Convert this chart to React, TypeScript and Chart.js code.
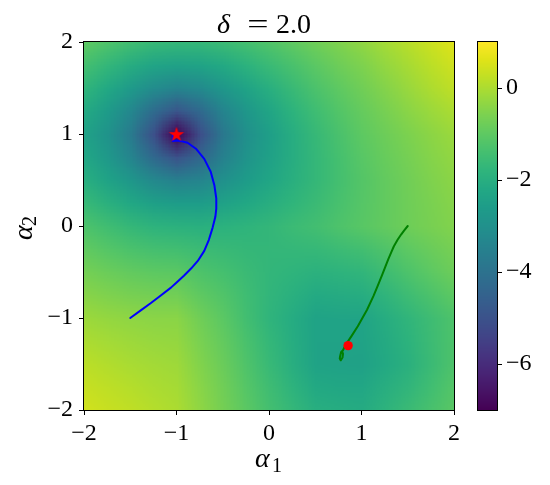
import React, { useEffect, useRef } from "react";
import { Chart, registerables } from "chart.js";

Chart.register(...registerables);

const FONT = "'Liberation Serif', 'Times New Roman', serif";

// ---- data ----
const alpha1Grid = [-2, -1.75, -1.5, -1.25, -1, -0.75, -0.5, -0.25, 0, 0.25, 0.5, 0.75, 1, 1.25, 1.5, 1.75, 2];
const alpha2Grid = [2, 1.75, 1.5, 1.25, 1, 0.75, 0.5, 0.25, 0, -0.25, -0.5, -0.75, -1, -1.25, -1.5, -1.75, -2];

// field value per row (alpha2 from 2 down to -2), per column (alpha1 from -2 to 2)
const fieldRows: number[][] = [
  [-1.01, -1.25, -1.48, -1.64, -1.70, -1.69, -1.58, -1.40, -1.21, -0.99, -0.77, -0.55, -0.34, -0.10, 0.13, 0.37, 0.60],
  [-1.40, -1.73, -2.06, -2.32, -2.43, -2.37, -2.16, -1.88, -1.60, -1.32, -1.05, -0.79, -0.56, -0.30, -0.06, 0.18, 0.41],
  [-1.78, -2.21, -2.69, -3.16, -3.39, -3.21, -2.79, -2.36, -1.98, -1.61, -1.28, -1.00, -0.75, -0.48, -0.23, 0.01, 0.23],
  [-2.14, -2.65, -3.31, -4.23, -4.92, -4.28, -3.41, -2.77, -2.29, -1.85, -1.49, -1.18, -0.90, -0.65, -0.41, -0.20, 0.00],
  [-2.40, -2.93, -3.69, -5.07, -7.00, -5.12, -3.79, -3.03, -2.50, -2.03, -1.64, -1.31, -1.01, -0.78, -0.57, -0.38, -0.20],
  [-2.24, -2.72, -3.36, -4.28, -4.97, -4.36, -3.51, -2.90, -2.44, -2.03, -1.69, -1.38, -1.10, -0.87, -0.66, -0.47, -0.30],
  [-1.98, -2.36, -2.79, -3.26, -3.49, -3.36, -2.99, -2.61, -2.28, -1.96, -1.68, -1.40, -1.15, -0.93, -0.73, -0.54, -0.38],
  [-1.63, -1.92, -2.21, -2.47, -2.58, -2.57, -2.41, -2.21, -2.00, -1.78, -1.57, -1.34, -1.13, -0.94, -0.76, -0.60, -0.44],
  [-1.26, -1.48, -1.68, -1.84, -1.90, -1.94, -1.88, -1.80, -1.71, -1.56, -1.42, -1.25, -1.09, -0.93, -0.77, -0.63, -0.50],
  [-0.96, -1.14, -1.29, -1.39, -1.43, -1.55, -1.61, -1.68, -1.71, -1.69, -1.66, -1.55, -1.43, -1.23, -1.02, -0.83, -0.64],
  [-0.67, -0.82, -0.93, -1.01, -1.04, -1.24, -1.38, -1.57, -1.72, -1.81, -1.90, -1.83, -1.77, -1.51, -1.26, -1.02, -0.78],
  [-0.43, -0.54, -0.63, -0.69, -0.71, -0.98, -1.20, -1.49, -1.75, -1.95, -2.13, -2.09, -2.05, -1.79, -1.52, -1.27, -1.01],
  [-0.19, -0.28, -0.35, -0.40, -0.41, -0.75, -1.05, -1.43, -1.79, -2.08, -2.37, -2.35, -2.32, -2.05, -1.77, -1.50, -1.24],
  [0.00, -0.10, -0.18, -0.25, -0.28, -0.62, -0.93, -1.32, -1.70, -2.04, -2.36, -2.38, -2.38, -2.12, -1.85, -1.54, -1.24],
  [0.18, 0.07, -0.03, -0.11, -0.17, -0.51, -0.83, -1.23, -1.62, -1.99, -2.36, -2.40, -2.42, -2.17, -1.92, -1.57, -1.23],
  [0.32, 0.21, 0.11, 0.00, -0.08, -0.42, -0.74, -1.14, -1.50, -1.84, -2.17, -2.22, -2.25, -2.00, -1.75, -1.45, -1.14],
  [0.45, 0.33, 0.23, 0.10, 0.00, -0.35, -0.68, -1.04, -1.40, -1.69, -1.98, -2.04, -2.09, -1.84, -1.58, -1.32, -1.06],
];

const blueAlpha1 = [-1.5, -1.39, -1.28, -1.17, -1.06, -0.99, -0.92, -0.84, -0.77, -0.7, -0.65, -0.61, -0.58, -0.57, -0.57, -0.59, -0.63, -0.7, -0.79, -0.88, -0.94, -0.99, -1.04, -1.04];
const blueAlpha2 = [-1.0, -0.92, -0.84, -0.755, -0.67, -0.605, -0.54, -0.46, -0.38, -0.27, -0.15, -0.02, 0.1, 0.19, 0.3, 0.44, 0.59, 0.73, 0.84, 0.905, 0.92, 0.93, 0.925, 0.99];

const greenAlpha1 = [1.5, 1.46, 1.43, 1.39, 1.35, 1.32, 1.29, 1.255, 1.22, 1.175, 1.13, 1.06, 1.01, 0.96, 0.89, 0.85, 0.82, 0.8, 0.78, 0.77, 0.765, 0.775, 0.795, 0.8, 0.79, 0.78];
const greenAlpha2 = [0.0, -0.05, -0.09, -0.15, -0.22, -0.29, -0.36, -0.45, -0.54, -0.65, -0.76, -0.91, -1.0, -1.09, -1.2, -1.26, -1.31, -1.35, -1.37, -1.41, -1.44, -1.46, -1.43, -1.39, -1.36, -1.38];

const starAlpha1 = [-1];
const starAlpha2 = [1];
const dotAlpha1 = [0.855];
const dotAlpha2 = [-1.3];

const axisRange = [-2, 2];
const axisTicks = [-2, -1, 0, 1, 2];
const colorRange = [-7, 1];
const colorbarTicks = [-6, -4, -2, 0];

// ---- styling ----
const VIRIDIS = [
  "#440154", "#471365", "#482475", "#463480", "#414487", "#3b528b", "#355f8d",
  "#2f6c8e", "#2a788e", "#25848e", "#21918c", "#1e9c89", "#22a884", "#2fb47c",
  "#44bf70", "#5ec962", "#7ad151", "#9bd93c", "#bddf26", "#dfe318", "#fde725",
];
const VIR_RGB = VIRIDIS.map((h) => [
  parseInt(h.slice(1, 3), 16),
  parseInt(h.slice(3, 5), 16),
  parseInt(h.slice(5, 7), 16),
]);

function viridis(t: number): number[] {
  const tt = Math.max(0, Math.min(1, t));
  const f = tt * (VIR_RGB.length - 1);
  const i = Math.min(VIR_RGB.length - 2, Math.floor(f));
  const u = f - i;
  const a = VIR_RGB[i];
  const b = VIR_RGB[i + 1];
  return [0, 1, 2].map((k) => Math.round(a[k] + (b[k] - a[k]) * u));
}

function fmt(v: number): string {
  return v < 0 ? "\u2212" + String(Math.abs(v)) : String(v);
}

function makeStar(outer: number, color: string): HTMLCanvasElement {
  const size = Math.ceil(outer * 2 + 2);
  const c = document.createElement("canvas");
  c.width = size;
  c.height = size;
  const g = c.getContext("2d")!;
  const cx = size / 2;
  const cy = size / 2 + outer * 0.1;
  const inner = outer * 0.382;
  g.beginPath();
  for (let k = 0; k < 10; k++) {
    const r = k % 2 === 0 ? outer : inner;
    const a = -Math.PI / 2 + (k * Math.PI) / 5;
    const px = cx + r * Math.cos(a);
    const py = cy + r * Math.sin(a);
    if (k === 0) g.moveTo(px, py);
    else g.lineTo(px, py);
  }
  g.closePath();
  g.fillStyle = color;
  g.fill();
  return c;
}

const tickFont = { family: FONT, size: 24 };

const heatmapPlugin = {
  id: "heatmap",
  beforeDraw(chart: any) {
    const { ctx, chartArea, scales } = chart;
    const xs = scales.x;
    const ys = scales.y;
    const nx = alpha1Grid.length;
    const ny = alpha2Grid.length;
    const off = document.createElement("canvas");
    off.width = nx;
    off.height = ny;
    const octx = off.getContext("2d")!;
    const img = octx.createImageData(nx, ny);
    for (let j = 0; j < ny; j++) {
      for (let i = 0; i < nx; i++) {
        const t = (fieldRows[j][i] - colorRange[0]) / (colorRange[1] - colorRange[0]);
        const [r, g, b] = viridis(t);
        const p = (j * nx + i) * 4;
        img.data[p] = r;
        img.data[p + 1] = g;
        img.data[p + 2] = b;
        img.data[p + 3] = 255;
      }
    }
    octx.putImageData(img, 0, 0);
    const hx = (alpha1Grid[1] - alpha1Grid[0]) / 2;
    const hy = (alpha2Grid[0] - alpha2Grid[1]) / 2;
    const left = xs.getPixelForValue(alpha1Grid[0] - hx);
    const right = xs.getPixelForValue(alpha1Grid[nx - 1] + hx);
    const top = ys.getPixelForValue(alpha2Grid[0] + hy);
    const bottom = ys.getPixelForValue(alpha2Grid[ny - 1] - hy);
    ctx.save();
    ctx.beginPath();
    ctx.rect(chartArea.left, chartArea.top, chartArea.right - chartArea.left, chartArea.bottom - chartArea.top);
    ctx.clip();
    ctx.imageSmoothingEnabled = true;
    ctx.imageSmoothingQuality = "low";
    ctx.drawImage(off, left, top, right - left, bottom - top);
    ctx.restore();
  },
  afterDraw(chart: any) {
    const { ctx, chartArea } = chart;
    const { left, right, top, bottom } = chartArea;
    ctx.save();
    ctx.strokeStyle = "#000";
    ctx.lineWidth = 1;
    ctx.strokeRect(left - 0.5, top - 0.5, right - left + 1, bottom - top + 1);

    const cx = (left + right) / 2;
    const cy = (top + bottom) / 2;
    ctx.fillStyle = "#000";
    ctx.textBaseline = "alphabetic";

    // title: δ = 2.0
    ctx.font = `italic 28px ${FONT}`;
    ctx.textAlign = "left";
    ctx.fillText("\u03b4", cx - 52, top - 9);
    ctx.save();
    ctx.translate(cx - 11, top - 9);
    ctx.scale(1.35, 1);
    ctx.font = `28px ${FONT}`;
    ctx.textAlign = "center";
    ctx.fillText("=", 0, 0);
    ctx.restore();
    ctx.font = `28px ${FONT}`;
    ctx.textAlign = "left";
    ctx.fillText("2.0", cx + 7, top - 9);

    // x label: α1
    ctx.font = `italic 28px ${FONT}`;
    ctx.textAlign = "left";
    ctx.fillText("\u03b1", cx - 14, bottom + 57);
    ctx.font = `20px ${FONT}`;
    ctx.fillText("1", cx + 3, bottom + 62);

    // y label: α2 (rotated)
    ctx.save();
    ctx.translate(left - 52, cy + 14);
    ctx.rotate(-Math.PI / 2);
    ctx.font = `italic 28px ${FONT}`;
    ctx.textAlign = "left";
    ctx.fillText("\u03b1", 0, 0);
    ctx.font = `20px ${FONT}`;
    ctx.fillText("2", 14, 4);
    ctx.restore();
    ctx.restore();
  },
};

const colorbarPlugin = {
  id: "colorbarFill",
  beforeDraw(chart: any) {
    const { ctx, chartArea, scales } = chart;
    const ys = scales.y;
    ctx.save();
    for (let py = Math.floor(chartArea.top); py < Math.ceil(chartArea.bottom); py++) {
      const v = ys.getValueForPixel(py + 0.5);
      const [r, g, b] = viridis((v - colorRange[0]) / (colorRange[1] - colorRange[0]));
      ctx.fillStyle = `rgb(${r},${g},${b})`;
      ctx.fillRect(chartArea.left, py, chartArea.right - chartArea.left, 1);
    }
    ctx.restore();
  },
  afterDraw(chart: any) {
    const { ctx, chartArea } = chart;
    const { left, right, top, bottom } = chartArea;
    ctx.save();
    ctx.strokeStyle = "#000";
    ctx.lineWidth = 1;
    ctx.strokeRect(left - 0.5, top - 0.5, right - left + 1, bottom - top + 1);
    ctx.restore();
  },
};

export default function App() {
  const mainRef = useRef<HTMLCanvasElement>(null);
  const cbRef = useRef<HTMLCanvasElement>(null);

  useEffect(() => {
    const star = makeStar(8, "#ff0000");
    const main = new Chart(mainRef.current as HTMLCanvasElement, {
      type: "scatter",
      data: {
        datasets: [
          {
            label: "star",
            data: starAlpha1.map((x, i) => ({ x, y: starAlpha2[i] })),
            pointStyle: star as any,
            pointRadius: 8,
            order: 0,
          },
          {
            label: "dot",
            data: dotAlpha1.map((x, i) => ({ x, y: dotAlpha2[i] })),
            pointRadius: 4.7,
            pointBackgroundColor: "#ff0000",
            pointBorderColor: "#ff0000",
            pointBorderWidth: 0,
            order: 1,
          },
          {
            label: "blue",
            data: blueAlpha1.map((x, i) => ({ x, y: blueAlpha2[i] })),
            showLine: true,
            borderColor: "#0000ff",
            borderWidth: 2,
            pointRadius: 0,
            borderJoinStyle: "round",
            borderCapStyle: "round",
            tension: 0,
            order: 2,
          },
          {
            label: "green",
            data: greenAlpha1.map((x, i) => ({ x, y: greenAlpha2[i] })),
            showLine: true,
            borderColor: "#008000",
            borderWidth: 2,
            pointRadius: 0,
            borderJoinStyle: "round",
            borderCapStyle: "round",
            tension: 0,
            order: 3,
          },
        ],
      },
      options: {
        responsive: false,
        animation: false,
        devicePixelRatio: 1,
        layout: { padding: { top: 42, right: 16, bottom: 0, left: 0 } },
        plugins: { legend: { display: false }, tooltip: { enabled: false }, title: { display: false } },
        events: [],
        scales: {
          x: {
            type: "linear",
            min: axisRange[0],
            max: axisRange[1],
            afterBuildTicks: (s: any) => {
              s.ticks = axisTicks.map((v) => ({ value: v }));
            },
            afterFit: (s: any) => {
              s.height = 75;
            },
            grid: { drawOnChartArea: false, drawTicks: true, tickLength: 5, color: "#000", lineWidth: 1 },
            border: { display: false },
            ticks: {
              color: "#000",
              font: tickFont,
              padding: 4,
              maxRotation: 0,
              autoSkip: false,
              callback: (v: any) => fmt(Number(v)),
            },
          },
          y: {
            type: "linear",
            min: axisRange[0],
            max: axisRange[1],
            afterBuildTicks: (s: any) => {
              s.ticks = axisTicks.map((v) => ({ value: v }));
            },
            afterFit: (s: any) => {
              s.width = 84;
            },
            grid: { drawOnChartArea: false, drawTicks: true, tickLength: 5, color: "#000", lineWidth: 1 },
            border: { display: false },
            ticks: {
              color: "#000",
              font: tickFont,
              padding: 6,
              autoSkip: false,
              callback: (v: any) => fmt(Number(v)),
            },
          },
        },
      } as any,
      plugins: [heatmapPlugin],
    });

    const cb = new Chart(cbRef.current as HTMLCanvasElement, {
      type: "scatter",
      data: { datasets: [] },
      options: {
        responsive: false,
        animation: false,
        devicePixelRatio: 1,
        events: [],
        layout: { padding: { top: 42, right: 0, bottom: 75, left: 8 } },
        plugins: { legend: { display: false }, tooltip: { enabled: false } },
        scales: {
          x: { display: false, min: 0, max: 1 },
          y: {
            type: "linear",
            position: "right",
            min: colorRange[0],
            max: colorRange[1],
            afterBuildTicks: (s: any) => {
              s.ticks = colorbarTicks.map((v) => ({ value: v }));
            },
            afterFit: (s: any) => {
              s.width = 53;
            },
            grid: { drawOnChartArea: false, drawTicks: true, tickLength: 5, color: "#000", lineWidth: 1 },
            border: { display: false },
            ticks: {
              color: "#000",
              font: tickFont,
              padding: 4,
              autoSkip: false,
              callback: (v: any) => fmt(Number(v)),
            },
          },
        },
      } as any,
      plugins: [colorbarPlugin],
    });

    return () => {
      main.destroy();
      cb.destroy();
    };
  }, []);

  return (
    <div style={{ position: "absolute", left: 0, top: 0, width: 550, height: 485, background: "#fff" }}>
      <canvas
        ref={mainRef}
        width={470}
        height={485}
        style={{ position: "absolute", left: 0, top: 0, width: 470, height: 485 }}
      />
      <canvas
        ref={cbRef}
        width={80}
        height={485}
        style={{ position: "absolute", left: 470, top: 0, width: 80, height: 485 }}
      />
    </div>
  );
}
